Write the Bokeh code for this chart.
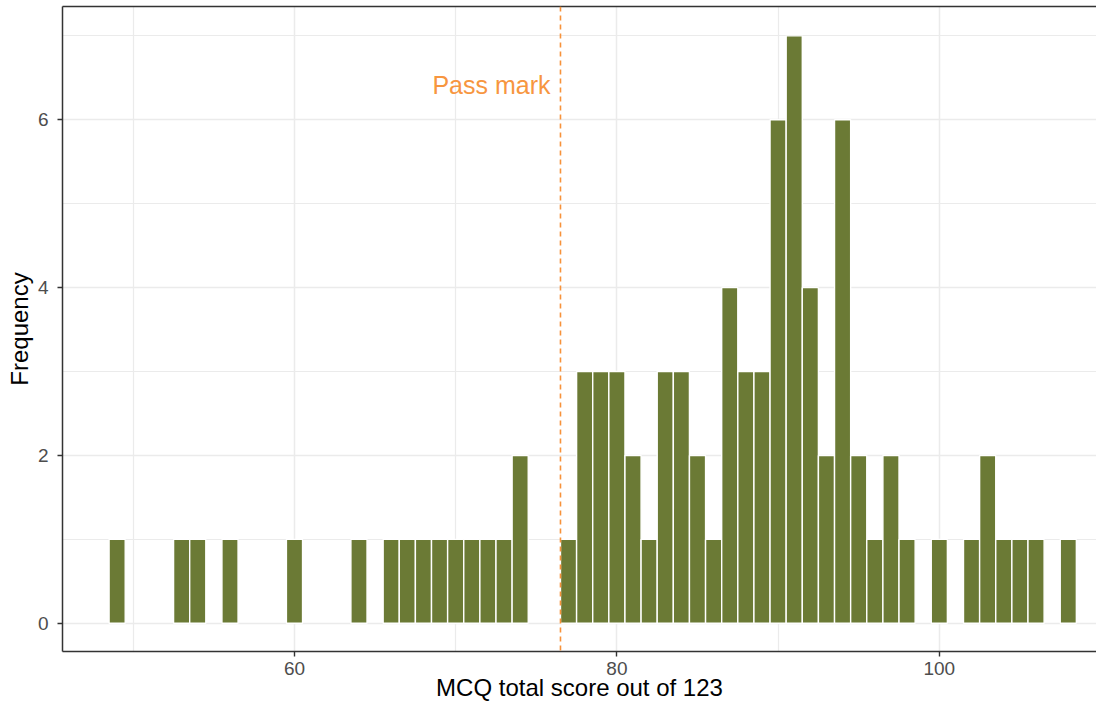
from bokeh.plotting import figure
from bokeh.models import ColumnDataSource, FixedTicker, LinearAxis, Range1d, Span, Label
from bokeh.embed import file_html
from bokeh.resources import INLINE

# Histogram data (bin centres, binwidth 1)
scores = [49, 53, 54, 56, 60, 64, 66, 67, 68, 69, 70, 71, 72, 73, 74,
          77, 78, 79, 80, 81, 82, 83, 84, 85, 86, 87, 88, 89, 90, 91,
          92, 93, 94, 95, 96, 97, 98, 100, 102, 103, 104, 105, 106, 108]
counts = [1, 1, 1, 1, 1, 1, 1, 1, 1, 1, 1, 1, 1, 1, 2,
          1, 3, 3, 3, 2, 1, 3, 3, 2, 1, 4, 3, 3, 6, 7,
          4, 2, 6, 2, 1, 2, 1, 1, 1, 2, 1, 1, 1, 1]
binwidth = 1
pass_mark = 76.5
pass_label = "Pass mark"
x_ticks = [60, 80, 100]
x_minor = [50, 70, 90, 110]
y_ticks = [0, 2, 4, 6]
y_minor = [1, 3, 5, 7]

FONT = "Liberation Sans"
BORDER = "#333333"
GRID = "#EBEBEB"

src = ColumnDataSource(dict(
    left=[s - binwidth / 2 for s in scores],
    right=[s + binwidth / 2 for s in scores],
    top=counts,
    bottom=[0] * len(scores),
))

p = figure(width=1096, height=703, output_backend="svg", toolbar_location=None,
           x_range=Range1d(45.61, 109.75), y_range=Range1d(-0.336, 7.35),
           min_border_left=62, min_border_right=0, min_border_top=6, min_border_bottom=0,
           background_fill_color="white", border_fill_color="white")
p.outline_line_color = None

p.quad(left="left", right="right", top="top", bottom="bottom", source=src,
       fill_color="#6B7A35", line_color="white", line_width=1.4)

vline = Span(location=pass_mark, dimension="height", line_color="#F7923A",
             line_dash="5 4", line_width=1.6)
p.add_layout(vline)

lab = Label(x=pass_mark, y=6.42, text=pass_label, text_align="right",
            text_baseline="middle", x_offset=-10, text_color="#F7963F",
            text_font=FONT, text_font_size="25px")
p.add_layout(lab)

# axes
xa = p.xaxis[0]
xa.ticker = FixedTicker(ticks=x_ticks, minor_ticks=x_minor)
ya = p.yaxis[0]
ya.ticker = FixedTicker(ticks=y_ticks, minor_ticks=y_minor)
for ax in (xa, ya):
    ax.axis_line_color = BORDER
    ax.axis_line_width = 1.5
    ax.major_tick_line_color = BORDER
    ax.major_tick_line_width = 1.4
    ax.major_tick_out = 5
    ax.major_tick_in = 0
    ax.minor_tick_line_color = None
    ax.major_label_text_color = "#4D4D4D"
    ax.major_label_text_font = FONT
    ax.major_label_text_font_size = "19px"
    ax.axis_label_text_font = FONT
    ax.axis_label_text_font_size = "24px"
    ax.axis_label_text_font_style = "normal"
    ax.axis_label_text_color = "black"

xa.axis_label = "MCQ total score out of 123"
xa.major_label_standoff = 5
xa.axis_label_standoff = -4
ya.axis_label = "Frequency"
ya.major_label_standoff = 9
ya.axis_label_standoff = 2

top_axis = LinearAxis(ticker=FixedTicker(ticks=[]), axis_line_color=BORDER,
                      axis_line_width=1.5, major_tick_line_color=None,
                      minor_tick_line_color=None, major_label_text_font_size="0px",
                      major_label_standoff=0, major_tick_out=0, major_tick_in=0)
p.add_layout(top_axis, "above")

# grid
p.xgrid.ticker = FixedTicker(ticks=x_ticks, minor_ticks=x_minor)
p.ygrid.ticker = FixedTicker(ticks=y_ticks, minor_ticks=y_minor)
for g in (p.xgrid[0], p.ygrid[0]):
    g.grid_line_color = GRID
    g.grid_line_width = 1.5
    g.minor_grid_line_color = GRID
    g.minor_grid_line_width = 1.2

open("out.html", "w").write(file_html(p, INLINE))
